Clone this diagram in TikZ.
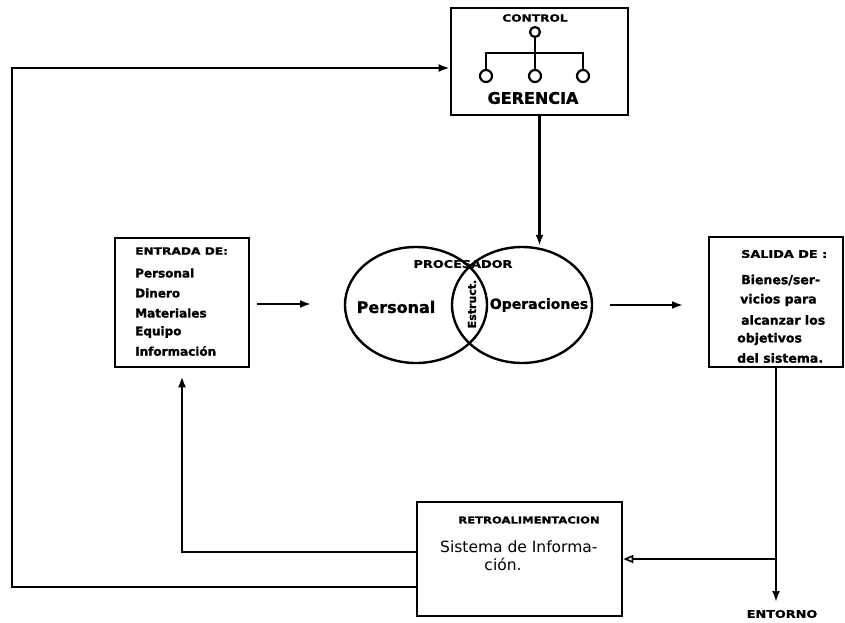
\documentclass[tikz,border=0pt]{standalone}
\usepackage{fontspec}
\setmainfont{DejaVu Sans}[BoldFeatures={FakeBold=1.2}]
\newfontfamily\widefont{DejaVu Sans}[FakeStretch=1.22,FakeBold=1.2,BoldFont={DejaVu Sans Bold}]
\usetikzlibrary{shapes.geometric,arrows.meta}
\newcommand\fsz[1]{\fontsize{#1}{#1}\selectfont}

\begin{document}
\begin{tikzpicture}[x=1pt,y=-1pt,
  box/.style={draw,line width=2.6pt,inner sep=0pt},
  conn/.style={line width=2.2pt},
  arr/.style={conn,-{Latex[length=11pt,width=8pt]}},
  oarr/.style={conn,-{Triangle[open,length=10pt,width=8pt,line width=1.6pt]}},
  dot/.style={draw,circle,line width=2.2pt,inner sep=0pt},
  lbl/.style={inner sep=0pt,font=\bfseries},
  txt/.style={inner sep=0pt,anchor=west,font=\bfseries},
]
\fill[white] (0,0) rectangle (845,623);
\useasboundingbox (0,0) rectangle (845,623);

% ---- control / management box
\node[box,minimum width=177pt,minimum height=107pt] (ctrl) at (539.5,61.5) {};
\node[lbl,font=\widefont\bfseries\fsz{10}] (tctrl) at (535,18) {CONTROL};
\node[dot,minimum size=10pt] (c0) at (535,32) {};
\node[dot,minimum size=12pt] (c1) at (486,76) {};
\node[dot,minimum size=12pt] (c2) at (535,76) {};
\node[dot,minimum size=12pt] (c3) at (583,76) {};
\coordinate (bar) at (535,53);
\draw[conn] (c0.south) -- (bar);
\draw[conn] (c1.north) |- (bar) -| (c3.north);
\draw[conn] (bar) -- (c2.north);
\node[lbl,font=\bfseries\fsz{16}] (tger) at (533,98) {GERENCIA};

% ---- processor
\node[draw,ellipse,line width=2.4pt,inner sep=0pt,minimum width=142pt,minimum height=116pt] (pl) at (416,305) {};
\node[draw,ellipse,line width=2.4pt,inner sep=0pt,minimum width=140pt,minimum height=116pt] (pr) at (522,305) {};
\node[lbl,font=\widefont\bfseries\fsz{10.5}] (tproc) at (463,264) {PROCESADOR};
\node[lbl,font=\bfseries\fsz{16}] (tpers) at (396,307) {Personal};
\node[lbl,font=\bfseries\fsz{14}] (topr) at (539,305) {Operaciones};
\node[lbl,font=\bfseries\fsz{11}, rotate=90] (testr) at (472,304) {Estruct.};

% ---- input box
\node[box,minimum width=134pt,minimum height=129pt] (ent) at (182,302.5) {};
\node[txt,font=\widefont\bfseries\fsz{10}] (tent) at (135,251) {ENTRADA DE:};
\node[txt,font=\bfseries\fsz{12}] (e1) at (135,273) {Personal};
\node[txt,font=\bfseries\fsz{12}] (e2) at (135,293) {Dinero};
\node[txt,font=\bfseries\fsz{12}] (e3) at (135,313) {Materiales};
\node[txt,font=\bfseries\fsz{12}] (e4) at (135,332) {Equipo};
\node[txt,font=\bfseries\fsz{12}] (e5) at (135,351) {Información};

% ---- output box
\node[box,minimum width=134pt,minimum height=130pt] (sal) at (776,302) {};
\node[txt,font=\widefont\bfseries\fsz{10.5}] (tsal) at (741,254) {SALIDA DE :};
\node[txt,font=\bfseries\fsz{12.5}] (s1) at (741,280) {Bienes/ser-};
\node[txt,font=\bfseries\fsz{12.5}] (s2) at (740,300) {vicios para};
\node[txt,font=\bfseries\fsz{12.5}] (s3) at (741,320) {alcanzar los};
\node[txt,font=\bfseries\fsz{12.5}] (s4) at (737,339) {objetivos};
\node[txt,font=\bfseries\fsz{12.5}] (s5) at (737,358) {del sistema.};

% ---- feedback box
\node[box,minimum width=205pt,minimum height=114pt] (retro) at (519.5,559) {};
\node[lbl,font=\widefont\bfseries\fsz{9.5}] (tret) at (529,520) {RETROALIMENTACION};
\node[txt,font=\fsz{15.5}] (r1) at (440,547) {Sistema de Informa-};
\node[lbl,font=\fsz{15.5}] (r2) at (503,564) {ción.};

\node[lbl,font=\widefont\bfseries\fsz{10.5}] (tento) at (782,614) {ENTORNO};

% ---- connectors
\coordinate (in1) at (257,304);
\coordinate (in2) at (311,304);
\coordinate (out1) at (610,305);
\coordinate (out2) at (683,305);
\draw[arr] (in1) -- (in2);
\draw[arr] (out1) -- (out2);
\draw[arr] (ctrl.south) -- (ctrl.south |- pr.north);

\coordinate (etip) at (776,602);
\coordinate (junc) at (776,559);
\draw[arr] (sal.south) -- (etip);
\draw[oarr] (junc) -- (retro.east |- junc);

\coordinate (yback) at (0,552);
\draw[arr] (retro.west |- yback) -| ([yshift=-8pt]ent.south);

\coordinate (fb1) at (12,587);
\coordinate (fb2) at (12,68);
\draw[arr] (retro.west |- fb1) -- (fb1) -- (fb2) -- (ctrl.west |- fb2);
\end{tikzpicture}
\end{document}
